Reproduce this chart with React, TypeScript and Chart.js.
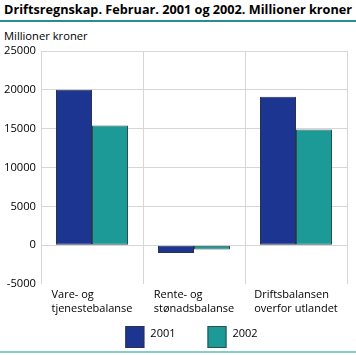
import React, { useEffect, useRef } from "react";
import { Chart, registerables } from "chart.js";

Chart.register(...registerables);

const title = "Driftsregnskap. Februar. 2001 og 2002. Millioner kroner";
const yAxisTitle = "Millioner kroner";
const categories: string[][] = [
  ["Vare- og", "tjenestebalanse"],
  ["Rente- og", "stønadsbalanse"],
  ["Driftsbalansen", "overfor utlandet"],
];
const seriesLabels = ["2001", "2002"];
const values2001 = [20000, -1000, 19100];
const values2002 = [15400, -550, 14900];
const yMin = -5000;
const yMax = 25000;
const yStep = 5000;

const FONT = "'Open Sans', 'Noto Sans', sans-serif";
const colors = ["#1c3591", "#1b9a97"];
const borderColors = ["#2c3150", "#2b4f52"];

export default function App() {
  const ref = useRef<HTMLCanvasElement | null>(null);

  useEffect(() => {
    const canvas = ref.current;
    if (!canvas) return;
    const labelPlugin = {
      id: "customLabels",
      afterDraw(chart: any) {
        const ctx = chart.ctx;
        const xs = chart.scales.x;
        ctx.save();
        ctx.fillStyle = "#000";
        ctx.font = `11px ${FONT}`;
        ctx.textBaseline = "top";
        ctx.textAlign = "left";
        categories.forEach((lines, i) => {
          const cx = xs.getPixelForValue(i);
          const w = Math.max(...lines.map((l) => ctx.measureText(l).width));
          const left = cx - w / 2;
          lines.forEach((l, j) => {
            ctx.fillText(l, left, 289 + j * 14);
          });
        });
        // legend
        const boxW = 19;
        const boxH = 22;
        const gap = 6;
        const spacing = 32;
        const widths = chart.data.datasets.map(
          (d: any) => boxW + gap + ctx.measureText(d.label).width
        );
        const total = widths.reduce((a: number, b: number) => a + b, 0) + spacing * (widths.length - 1);
        const center = (chart.chartArea.left + chart.chartArea.right) / 2 - 2.5;
        let x = center - total / 2;
        const boxTop = 326;
        chart.data.datasets.forEach((d: any, i: number) => {
          ctx.fillStyle = d.backgroundColor;
          ctx.fillRect(x, boxTop, boxW, boxH);
          ctx.strokeStyle = d.borderColor;
          ctx.lineWidth = 1;
          ctx.strokeRect(x + 0.5, boxTop + 0.5, boxW - 1, boxH - 1);
          ctx.fillStyle = "#000";
          ctx.textBaseline = "middle";
          ctx.fillText(d.label, x + boxW + gap, boxTop + 8);
          x += widths[i] + spacing;
        });
        ctx.restore();
      },
    };

    const chart = new Chart(canvas, {
      type: "bar",
      data: {
        labels: categories.map((c) => c.join(" ")),
        datasets: [
          {
            label: seriesLabels[0],
            data: values2001,
            backgroundColor: colors[0],
            borderColor: borderColors[0],
            borderWidth: 1,
            borderSkipped: false,
          },
          {
            label: seriesLabels[1],
            data: values2002,
            backgroundColor: colors[1],
            borderColor: borderColors[1],
            borderWidth: 1,
            borderSkipped: false,
          },
        ],
      },
      options: {
        responsive: false,
        animation: false,
        maintainAspectRatio: false,
        layout: { padding: { top: 51, right: 9, left: 0, bottom: 33 } },
        datasets: { bar: { categoryPercentage: 0.706, barPercentage: 1 } },
        plugins: {
          legend: { display: false },
          tooltip: { enabled: false },
          title: { display: false },
        },
        scales: {
          x: {
            grid: { offset: true, color: "#d6d6d6", drawTicks: false },
            border: { display: false },
            ticks: { display: false },
            afterFit: (s: any) => {
              s.height = 38;
            },
          },
          y: {
            min: yMin,
            max: yMax,
            grid: {
              drawTicks: false,
              color: (c: any) => (c.tick && c.tick.value === yMin ? "rgba(0,0,0,0)" : "#d6d6d6"),
            },
            border: { display: false },
            ticks: {
              stepSize: yStep,
              padding: 5,
              color: "#000",
              font: { family: FONT, size: 11.2 },
              callback: (v: any) => String(v),
            },
            afterFit: (s: any) => {
              s.width = 41;
            },
          },
        },
      },
      plugins: [labelPlugin],
    } as any);
    return () => chart.destroy();
  }, []);

  return (
    <div style={{ position: "fixed", left: 0, top: 0, width: 356, height: 355, background: "#fff" }}>
      <div
        style={{
          position: "absolute",
          left: 4,
          top: 0,
          fontFamily: FONT,
          fontWeight: 700,
          fontSize: 12.7,
          lineHeight: "18px",
          whiteSpace: "nowrap",
          color: "#000",
        }}
      >
        {title}
      </div>
      <div style={{ position: "absolute", left: 0, top: 20, width: 356, height: 1.5, background: "#2a8c8c" }} />
      <div
        style={{
          position: "absolute",
          left: 4,
          top: 28,
          fontFamily: FONT,
          fontSize: 11.2,
          lineHeight: "16px",
          whiteSpace: "nowrap",
          color: "#000",
        }}
      >
        {yAxisTitle}
      </div>
      <canvas ref={ref} width={356} height={355} style={{ position: "absolute", left: 0, top: 0 }} />
      <div style={{ position: "absolute", left: 0, top: 351, width: 356, height: 2, background: "#86cccc" }} />
    </div>
  );
}
